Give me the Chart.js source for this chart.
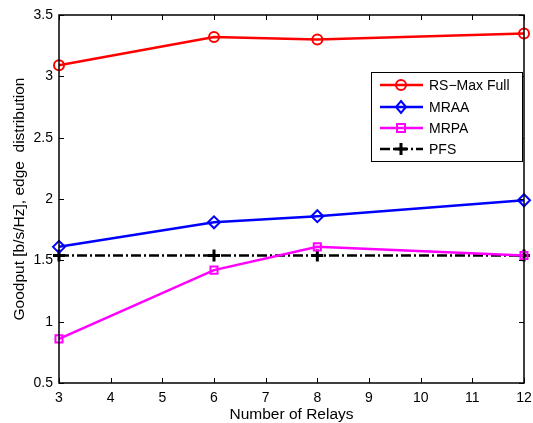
<!DOCTYPE html>
<html>
<head>
<meta charset="utf-8">
<script src="https://cdn.jsdelivr.net/npm/chart.js@4/dist/chart.umd.min.js"></script>
<style>
body { margin: 0; background: #fff; }
#wrap { width: 533px; height: 423px; }
</style>
</head>
<body>
<div id="wrap"><canvas id="goodputChart" width="533" height="423"></canvas></div>
<script>
// number of relays
var relays = [3, 6, 8, 12];
// goodput, edge distribution
var rsMaxFull = [3.09, 3.32, 3.30, 3.35];
var mraa = [1.61, 1.81, 1.86, 1.99];
var mrpa = [0.86, 1.42, 1.61, 1.54];
var pfs = [1.54, 1.54, 1.54, 1.54];

var xTicks = [3, 4, 5, 6, 7, 8, 9, 10, 11, 12];
var yTicks = [0.5, 1, 1.5, 2, 2.5, 3, 3.5];

var fontFam = '"Liberation Sans", Arial, Helvetica, sans-serif';

function toPoints(ys){
	var arr = [];
	for(var i = 0; i < relays.length; i++){
		arr.push({x: relays[i], y: ys[i]});
	}
	return arr;
}

var seriesList = [
	{label: 'RS\u2212Max Full', data: rsMaxFull, color: '#ff0000', style: 'circle', dash: []},
	{label: 'MRAA', data: mraa, color: '#0000ff', style: 'diamond', dash: []},
	{label: 'MRPA', data: mrpa, color: '#ff00ff', style: 'square', dash: []},
	{label: 'PFS', data: pfs, color: '#000000', style: 'plus', dash: [10, 3, 2, 3]}
];

function markerStyle(s){
	if(s == 'circle') return 'circle';
	if(s == 'diamond') return 'rectRot';
	if(s == 'square') return 'rect';
	return 'cross';
}

function markerRadius(s){
	if(s == 'circle') return 5;
	if(s == 'diamond') return 6;
	if(s == 'square') return 5;
	return 6;
}

//marker for legend
function drawMarker(ctx, s, x, y, color){
	ctx.save();
	ctx.strokeStyle = color;
	ctx.lineWidth = 2;
	ctx.setLineDash([]);
	ctx.beginPath();
	if(s == 'circle'){
		ctx.arc(x, y, 5, 0, Math.PI * 2);
	}else if(s == 'diamond'){
		ctx.moveTo(x, y - 6); ctx.lineTo(x + 5, y); ctx.lineTo(x, y + 6); ctx.lineTo(x - 5, y); ctx.closePath();
	}else if(s == 'square'){
		ctx.rect(x - 4, y - 4, 8, 8);
	}else{
		ctx.lineWidth = 3;
		ctx.moveTo(x - 6, y); ctx.lineTo(x + 6, y);
		ctx.moveTo(x, y - 6); ctx.lineTo(x, y + 6);
	}
	ctx.stroke();
	ctx.restore();
}

var boxPlugin = {
	id: 'matlabBox',
	afterDatasetsDraw: function(chart){
		var ctx = chart.ctx;
		var a = chart.chartArea;
		var xs = chart.scales.x, ys = chart.scales.y;
		ctx.save();
		ctx.strokeStyle = '#000';
		ctx.lineWidth = 1;
		ctx.setLineDash([]);
		ctx.beginPath();
		var tl = 5;
		xTicks.forEach(function(v){
			var px = Math.round(xs.getPixelForValue(v)) + 0.5;
			ctx.moveTo(px, a.bottom); ctx.lineTo(px, a.bottom - tl);
			ctx.moveTo(px, a.top); ctx.lineTo(px, a.top + tl);
		});
		yTicks.forEach(function(v){
			var py = Math.round(ys.getPixelForValue(v)) + 0.5;
			ctx.moveTo(a.left, py); ctx.lineTo(a.left + tl, py);
			ctx.moveTo(a.right, py); ctx.lineTo(a.right - tl, py);
		});
		ctx.stroke();
		ctx.lineWidth = 1.5;
		ctx.strokeRect(a.left, a.top, a.right - a.left, a.bottom - a.top);

		//legend
		var lx = 371, ly = 72, lw = 151, lh = 89;
		ctx.fillStyle = '#fff';
		ctx.fillRect(lx, ly, lw, lh);
		ctx.lineWidth = 1;
		ctx.strokeRect(lx + 0.5, ly + 0.5, lw, lh);
		var rowY = [85, 107, 128, 149];
		ctx.font = '14px ' + fontFam;
		ctx.textBaseline = 'middle';
		ctx.textAlign = 'left';
		seriesList.forEach(function(s, i){
			var y = rowY[i];
			ctx.strokeStyle = s.color;
			ctx.lineWidth = 2.5;
			ctx.setLineDash(s.dash);
			ctx.beginPath();
			ctx.moveTo(380, y); ctx.lineTo(423, y);
			ctx.stroke();
			drawMarker(ctx, s.style, 401, y, s.color);
			ctx.fillStyle = '#000';
			ctx.fillText(s.label, 429, y + 1);
		});
		ctx.restore();
	}
};

var datasets = seriesList.map(function(s){
	return {
		label: s.label,
		data: toPoints(s.data),
		borderColor: s.color,
		backgroundColor: 'rgba(0,0,0,0)',
		borderWidth: 2.5,
		borderDash: s.dash,
		pointStyle: markerStyle(s.style),
		pointRadius: markerRadius(s.style),
		pointBorderWidth: s.style == 'plus' ? 3 : 2,
		pointBorderColor: s.color,
		pointBackgroundColor: 'rgba(0,0,0,0)',
		fill: false,
		tension: 0,
		clip: false
	};
});

new Chart(document.getElementById('goodputChart').getContext('2d'), {
	type: 'line',
	data: {datasets: datasets},
	options: {
		responsive: false,
		devicePixelRatio: 1,
		animation: false,
		layout: {padding: {top: 15, right: 6, left: 0, bottom: 0}},
		plugins: {legend: {display: false}, tooltip: {enabled: false}},
		scales: {
			x: {
				type: 'linear',
				min: 3, max: 12,
				afterFit: function(scale){ scale.height = 40; scale.paddingLeft = 0; scale.paddingRight = 0; },
				afterBuildTicks: function(scale){ scale.ticks = xTicks.map(function(v){ return {value: v}; }); },
				grid: {display: false, drawTicks: false},
				border: {display: false},
				ticks: {color: '#000', padding: 7, font: {family: fontFam, size: 14}, maxRotation: 0,
					callback: function(v){ return String(v); }},
				title: {display: true, text: 'Number of Relays', color: '#000',
					font: {family: fontFam, size: 15.5}, padding: {top: 0, bottom: -1}}
			},
			y: {
				min: 0.5, max: 3.5,
				afterFit: function(scale){ scale.width = 59; scale.paddingTop = 0; scale.paddingBottom = 0; },
				afterBuildTicks: function(scale){ scale.ticks = yTicks.map(function(v){ return {value: v}; }); },
				grid: {display: false, drawTicks: false},
				border: {display: false},
				ticks: {color: '#000', padding: 6, font: {family: fontFam, size: 14},
					callback: function(v){ return String(v); }},
				title: {display: true, text: 'Goodput [b/s/Hz], edge  distribution', color: '#000',
					font: {family: fontFam, size: 15.5}, padding: {top: 10, bottom: 0}}
			}
		}
	},
	plugins: [boxPlugin]
});
</script>
</body>
</html>
